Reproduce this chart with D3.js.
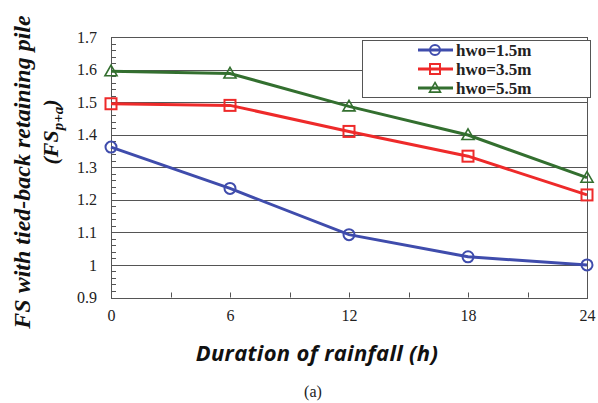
<!DOCTYPE html>
<html>
<head>
<meta charset="utf-8">
<script src="https://cdn.jsdelivr.net/npm/d3@7"></script>
<style>
  body { margin: 0; background: #fff; }
  svg { display: block; }
  .serif { font-family: "Liberation Serif", "Times New Roman", "DejaVu Serif", serif; }
</style>
</head>
<body>
<div id="chart"></div>
<script>
// Data
const hours = [0, 6, 12, 18, 24];
const seriesNames = ["hwo=1.5m", "hwo=3.5m", "hwo=5.5m"];
const hwo15 = [1.362, 1.235, 1.093, 1.025, 1.0];
const hwo35 = [1.495, 1.49, 1.41, 1.334, 1.215];
const hwo55 = [1.595, 1.588, 1.487, 1.399, 1.268];
const yTicks = [0.9, 1, 1.1, 1.2, 1.3, 1.4, 1.5, 1.6, 1.7];
const xTicks = [0, 6, 12, 18, 24];

const colors = ["#3f4cac", "#ee2a2a", "#336f2f"];
const shapes = ["circle", "square", "triangle"];

const series = [hwo15, hwo35, hwo55].map((vals, i) => ({
  name: seriesNames[i],
  color: colors[i],
  shape: shapes[i],
  values: vals.map((v, j) => ({ h: hours[j], v })),
}));

const svgWidth = 598, svgHeight = 403;
const margin = { top: 37, right: 10, bottom: 105, left: 111 };
const width = svgWidth - margin.left - margin.right;
const height = svgHeight - margin.top - margin.bottom;

const svg = d3.select("#chart").append("svg")
  .attr("width", svgWidth).attr("height", svgHeight);
const g = svg.append("g").attr("transform", `translate(${margin.left},${margin.top})`);

const x = d3.scaleLinear().domain([0, 24]).range([0, width - 1]);
const y = d3.scaleLinear().domain([0.9, 1.7]).range([height - 0.5, 0]);

// Gridlines
g.append("g").selectAll("line")
  .data(yTicks.slice(1))
  .join("line")
  .attr("x1", 0).attr("x2", x(24))
  .attr("y1", (d) => Math.round(y(d)) + 0.5).attr("y2", (d) => Math.round(y(d)) + 0.5)
  .attr("stroke", "#555").attr("stroke-width", 1);

// Frame
g.append("rect")
  .attr("x", 0.5).attr("y", Math.round(y(1.7)) + 0.5)
  .attr("width", x(24)).attr("height", Math.round(y(0.9)) - Math.round(y(1.7)))
  .attr("fill", "none").attr("stroke", "#555");

// Minor ticks on y axis (inside)
const yMinor = d3.range(0.9, 1.7001, 0.02);
g.append("g").selectAll("line")
  .data(yMinor)
  .join("line")
  .attr("x1", 0).attr("x2", 5)
  .attr("y1", (d) => Math.round(y(d)) + 0.5).attr("y2", (d) => Math.round(y(d)) + 0.5)
  .attr("stroke", "#555");

// x ticks (inside)
const xMinor = d3.range(0, 24.001, 3);
g.append("g").selectAll("line")
  .data(xMinor)
  .join("line")
  .attr("x1", (d) => Math.round(x(d)) + 0.5).attr("x2", (d) => Math.round(x(d)) + 0.5)
  .attr("y1", y(0.9)).attr("y2", y(0.9) - 5)
  .attr("stroke", "#555");

// Axis labels
const yAxis = g.append("g")
  .call(d3.axisLeft(y).tickValues(yTicks).tickFormat((d) => d3.format("")(+d.toFixed(1))).tickSize(0).tickPadding(14));
yAxis.select(".domain").remove();
yAxis.selectAll("text")
  .attr("class", "serif")
  .attr("font-size", 16).attr("fill", "#222");

const xAxis = g.append("g").attr("transform", `translate(0,${height})`)
  .call(d3.axisBottom(x).tickValues(xTicks).tickSize(0).tickPadding(12));
xAxis.select(".domain").remove();
xAxis.selectAll("text")
  .attr("class", "serif")
  .attr("font-size", 16).attr("fill", "#222");
yAxis.attr("font-family", null);
xAxis.attr("font-family", null);

// Lines
const line = d3.line().x((d) => x(d.h)).y((d) => y(d.v));

function marker(sel, shape, color, size) {
  if (shape === "circle") {
    sel.append("circle").attr("r", size).attr("fill", "none")
      .attr("stroke", color).attr("stroke-width", 2);
  } else if (shape === "square") {
    sel.append("rect").attr("x", -size).attr("y", -size)
      .attr("width", size * 2).attr("height", size * 2)
      .attr("fill", "none").attr("stroke", color).attr("stroke-width", 2);
  } else {
    const s = size * 1.1;
    sel.append("path")
      .attr("d", `M0,${-s}L${s},${s * 0.75}L${-s},${s * 0.75}Z`)
      .attr("fill", "none").attr("stroke", color).attr("stroke-width", 1.6);
  }
}

const gSeries = g.append("g").selectAll("g")
  .data(series)
  .join("g");
gSeries.append("path")
  .attr("d", (d) => line(d.values))
  .attr("fill", "none")
  .attr("stroke", (d) => d.color)
  .attr("stroke-width", 3);
gSeries.each(function (s) {
  d3.select(this).selectAll(".pt")
    .data(s.values)
    .join("g")
    .attr("class", "pt")
    .attr("transform", (d) => `translate(${x(d.h)},${y(d.v)})`)
    .each(function () { marker(d3.select(this), s.shape, s.color, 5.5); });
});

// Legend
const legend = svg.append("g").attr("transform", "translate(362,40)");
legend.append("rect")
  .attr("x", 0.5).attr("y", 0.5).attr("width", 228).attr("height", 57)
  .attr("fill", "#fff").attr("stroke", "#555");
const li = legend.selectAll(".li")
  .data(series)
  .join("g")
  .attr("class", "li")
  .attr("transform", (d, i) => `translate(0,${10 + i * 19})`);
li.append("line")
  .attr("x1", 56).attr("x2", 91)
  .attr("stroke", (d) => d.color).attr("stroke-width", 3);
li.each(function (s) { marker(d3.select(this).append("g").attr("transform", "translate(73,0)"), s.shape, s.color, 5); });
li.append("text")
  .attr("class", "serif")
  .attr("x", 94).attr("dy", "0.35em")
  .attr("font-weight", "bold").attr("font-size", 17).attr("fill", "#222")
  .text((d) => d.name);

// Titles
svg.append("text")
  .attr("class", "serif")
  .attr("transform", "translate(30,172) rotate(-90)")
  .attr("text-anchor", "middle")
  .attr("font-weight", "bold").attr("font-style", "italic").attr("font-size", 24)
  .attr("fill", "#111")
  .text("FS with tied-back retaining pile");

const yTitle2 = svg.append("text")
  .attr("class", "serif")
  .attr("transform", "translate(58,132) rotate(-90)")
  .attr("text-anchor", "middle")
  .attr("font-weight", "bold").attr("font-style", "italic").attr("font-size", 22)
  .attr("fill", "#111");
yTitle2.append("tspan").text("(FS");
yTitle2.append("tspan").attr("font-size", 15).attr("dy", 5).text("p+a");
yTitle2.append("tspan").attr("dy", -5).text(")");

svg.append("text")
  .attr("x", 317).attr("y", 361)
  .attr("text-anchor", "middle")
  .attr("font-family", "'Open Sans', sans-serif")
  .attr("font-weight", "bold").attr("font-style", "italic").attr("font-size", 22)
  .attr("letter-spacing", 0.3)
  .attr("fill", "#111")
  .text("Duration of rainfall (h)");

svg.append("text")
  .attr("class", "serif")
  .attr("x", 313).attr("y", 397)
  .attr("text-anchor", "middle")
  .attr("font-size", 16).attr("fill", "#222")
  .text("(a)");
</script>
</body>
</html>
